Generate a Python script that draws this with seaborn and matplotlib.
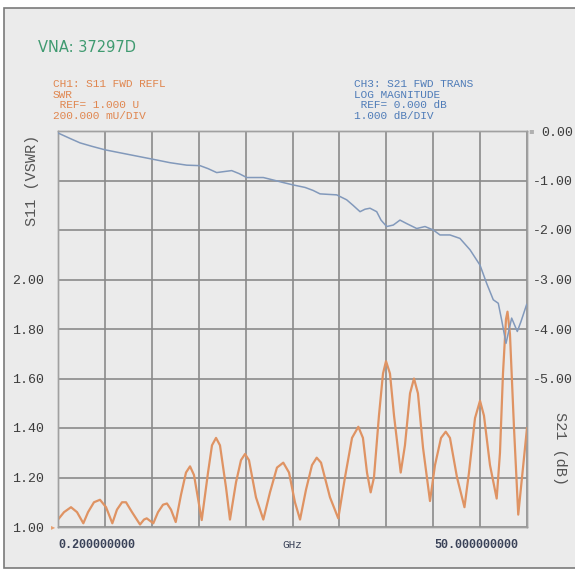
import matplotlib
matplotlib.use("Agg")
import matplotlib.pyplot as plt
import matplotlib.patches as mpatches
import seaborn as sns
import pandas as pd

# S11 (VSWR) trace, CH1
s11_freq_ghz = [0.20, 0.84, 1.58, 2.22, 2.89, 3.39, 4.02, 4.66, 5.30, 5.97,
                6.46, 7.00, 7.42, 8.06, 8.91, 9.33, 9.62, 9.97, 10.32, 10.82,
                11.35, 11.77, 12.20, 12.70, 13.26, 13.79, 14.22, 14.64, 15.46, 16.13,
                16.55, 16.98, 17.40, 18.04, 18.46, 19.10, 19.63, 20.06, 20.48, 21.22,
                22.00, 22.71, 23.45, 24.12, 24.73, 25.36, 25.90, 26.53, 27.17, 27.67,
                28.13, 29.08, 29.96, 30.67, 31.42, 32.09, 32.58, 33.01, 33.40, 33.75,
                34.28, 34.71, 35.03, 35.45, 35.88, 36.59, 37.04, 37.58, 38.00, 38.42,
                38.96, 39.70, 40.23, 40.87, 41.37, 41.82, 42.57, 43.36, 43.84, 44.48,
                45.01, 45.43, 46.07, 46.78, 47.13, 47.45, 47.77, 47.93, 48.19, 48.62,
                49.07, 49.47, 50.00]
s11_vswr = [1.03, 1.06, 1.08, 1.06, 1.015, 1.06, 1.10, 1.11, 1.08, 1.015,
            1.07, 1.10, 1.10, 1.06, 1.01, 1.03, 1.035, 1.025, 1.015, 1.06,
            1.09, 1.095, 1.07, 1.02, 1.13, 1.22, 1.245, 1.21, 1.028, 1.22,
            1.33, 1.36, 1.33, 1.16, 1.03, 1.18, 1.27, 1.295, 1.27, 1.12,
            1.03, 1.14, 1.24, 1.26, 1.22, 1.10, 1.03, 1.15, 1.25, 1.28,
            1.26, 1.12, 1.035, 1.20, 1.36, 1.405, 1.36, 1.22, 1.14, 1.20,
            1.45, 1.62, 1.67, 1.62, 1.45, 1.22, 1.33, 1.54, 1.60, 1.54,
            1.32, 1.105, 1.25, 1.36, 1.385, 1.36, 1.20, 1.08, 1.22, 1.44,
            1.51, 1.45, 1.25, 1.115, 1.30, 1.62, 1.84, 1.87, 1.78, 1.40,
            1.05, 1.20, 1.40]

# S21 (dB) trace, CH3
s21_freq_ghz = [0.20, 1.47, 2.54, 3.81, 5.19, 6.78, 8.38, 10.26, 12.09, 13.87,
                15.28, 16.13, 17.05, 17.83, 18.64, 19.42, 20.24, 21.12, 22.00, 23.06,
                24.09, 25.18, 26.43, 27.28, 28.02, 28.87, 29.79, 30.85, 31.52, 32.27,
                32.80, 33.33, 34.04, 34.50, 35.10, 35.80, 36.51, 37.22, 38.29, 39.17,
                40.05, 40.76, 41.82, 42.88, 43.95, 45.01, 45.72, 46.42, 46.95, 47.31,
                47.77, 48.37, 48.97, 49.36, 49.97]
s21_db = [-0.04, -0.15, -0.24, -0.31, -0.38, -0.44, -0.50, -0.57, -0.64, -0.69,
          -0.70, -0.76, -0.84, -0.82, -0.80, -0.86, -0.94, -0.94, -0.94, -0.99,
          -1.04, -1.09, -1.14, -1.20, -1.27, -1.28, -1.29, -1.39, -1.50, -1.63,
          -1.58, -1.56, -1.63, -1.80, -1.93, -1.90, -1.80, -1.87, -1.97, -1.93,
          -2.00, -2.10, -2.10, -2.17, -2.40, -2.71, -3.08, -3.41, -3.48, -3.82,
          -4.29, -3.78, -4.05, -3.85, -3.50]

left_ticks = [1.00, 1.20, 1.40, 1.60, 1.80, 2.00, 2.20, 2.40, 2.60]
left_labels = ["1.00", "1.20", "1.40", "1.60", "1.80", "2.00", "", "", ""]
right_ticks = [0.0, -1.0, -2.0, -3.0, -4.0, -5.0, -6.0, -7.0, -8.0]
right_labels = ["0.00", "-1.00", "-2.00", "-3.00", "-4.00", "-5.00", "", "", ""]
x_start, x_stop = 0.2, 50.0

sns.set_theme(style="white")
MONO = ["Liberation Mono", "DejaVu Sans Mono"]
BG = "#ebebeb"
GRID = "#8a8a8a"
ORANGE = "#df9363"
BLUE = "#8299bb"

fig = plt.figure(figsize=(5.75, 5.69), dpi=100, facecolor="white")
fig.patches.append(mpatches.Rectangle((4 / 575, 1 / 569), 1.1, (560 / 569),
                                      transform=fig.transFigure, facecolor=BG,
                                      edgecolor="#7a7a7a", linewidth=1.2, zorder=-10))

ax = fig.add_axes([58 / 575, 42 / 569, 469 / 575, 396 / 569])
ax.set_facecolor(BG)
ax2 = ax.twinx()

df11 = pd.DataFrame({"f": s11_freq_ghz, "v": s11_vswr})
df21 = pd.DataFrame({"f": s21_freq_ghz, "v": s21_db})

sns.lineplot(data=df11, x="f", y="v", ax=ax, color=ORANGE, linewidth=1.6, zorder=3)
sns.lineplot(data=df21, x="f", y="v", ax=ax2, color=BLUE, linewidth=1.1, zorder=3)

ax.set_xlim(x_start, x_stop)
ax.set_ylim(1.0, 2.6)
ax2.set_ylim(-8.0, 0.0)

xt = [x_start + i * (x_stop - x_start) / 10 for i in range(11)]
ax.set_xticks(xt)
ax.set_xticklabels([""] * 11)
ax.set_yticks(left_ticks)
ax.set_yticklabels(left_labels, family=MONO, fontsize=9.5, color="#3c3c3c")
ax2.set_yticks(right_ticks)
ax2.set_yticklabels(right_labels, family=MONO, fontsize=9.5, color="#3c3c3c", ha="right")
ax.tick_params(axis="both", length=0)
ax.tick_params(axis="y", pad=10)
ax2.tick_params(axis="y", length=0, pad=33)

ax.grid(True, color=GRID, linewidth=1.2)
ax.set_axisbelow(True)
ax.set_xlabel("")
ax.set_ylabel("")
ax2.set_ylabel("")
for a in (ax, ax2):
    for s in a.spines.values():
        s.set_color("#a0a0a0")
        s.set_linewidth(1.0)

# axis titles
fig.text(32 / 575, 1 - 180 / 569, "S11 (VSWR)", rotation=90, ha="center", va="center",
         family=MONO, fontsize=11, color="#555555")
fig.text(560 / 575, 1 - 449 / 569, "S21 (dB)", rotation=-90, ha="center", va="center",
         family=MONO, fontsize=11, color="#555555")

# header
fig.text(38 / 575, 1 - 47 / 569, "VNA: 37297D", ha="left", va="center",
         family=["DejaVu Sans"], fontsize=10.5, color="#3f9a70")
fig.text(53 / 575, 1 - 100 / 569,
         "CH1: S11 FWD REFL\nSWR\n REF= 1.000 U\n200.000 mU/DIV",
         ha="left", va="center", family=MONO, fontsize=8, color="#e0864f",
         linespacing=1.05)
fig.text(354 / 575, 1 - 100 / 569,
         "CH3: S21 FWD TRANS\nLOG MAGNITUDE\n REF= 0.000 dB\n1.000 dB/DIV",
         ha="left", va="center", family=MONO, fontsize=8, color="#4f7cb8",
         linespacing=1.05)

# frequency labels
fig.text(58 / 575, 1 - 545 / 569, "0.200000000", ha="left", va="center",
         family=MONO, fontsize=8.5, fontweight="bold", color="#3a4258")
fig.text(292 / 575, 1 - 545 / 569, "GHz", ha="center", va="center",
         family=MONO, fontsize=8, color="#3a4258")
fig.text(518 / 575, 1 - 545 / 569, "50.000000000", ha="right", va="center",
         family=MONO, fontsize=8.5, fontweight="bold", color="#3a4258")

# reference markers
fig.text(53 / 575, 1 - 527 / 569, "\u25b8", ha="center", va="center",
         fontsize=6, color="#e8a070", family=["DejaVu Sans"])
fig.text(531 / 575, 1 - 131 / 569, "\u25aa", ha="center", va="center",
         fontsize=6, color="#b0b0b0", family=["DejaVu Sans"])

fig.savefig("out.png", dpi=100, facecolor="white")
